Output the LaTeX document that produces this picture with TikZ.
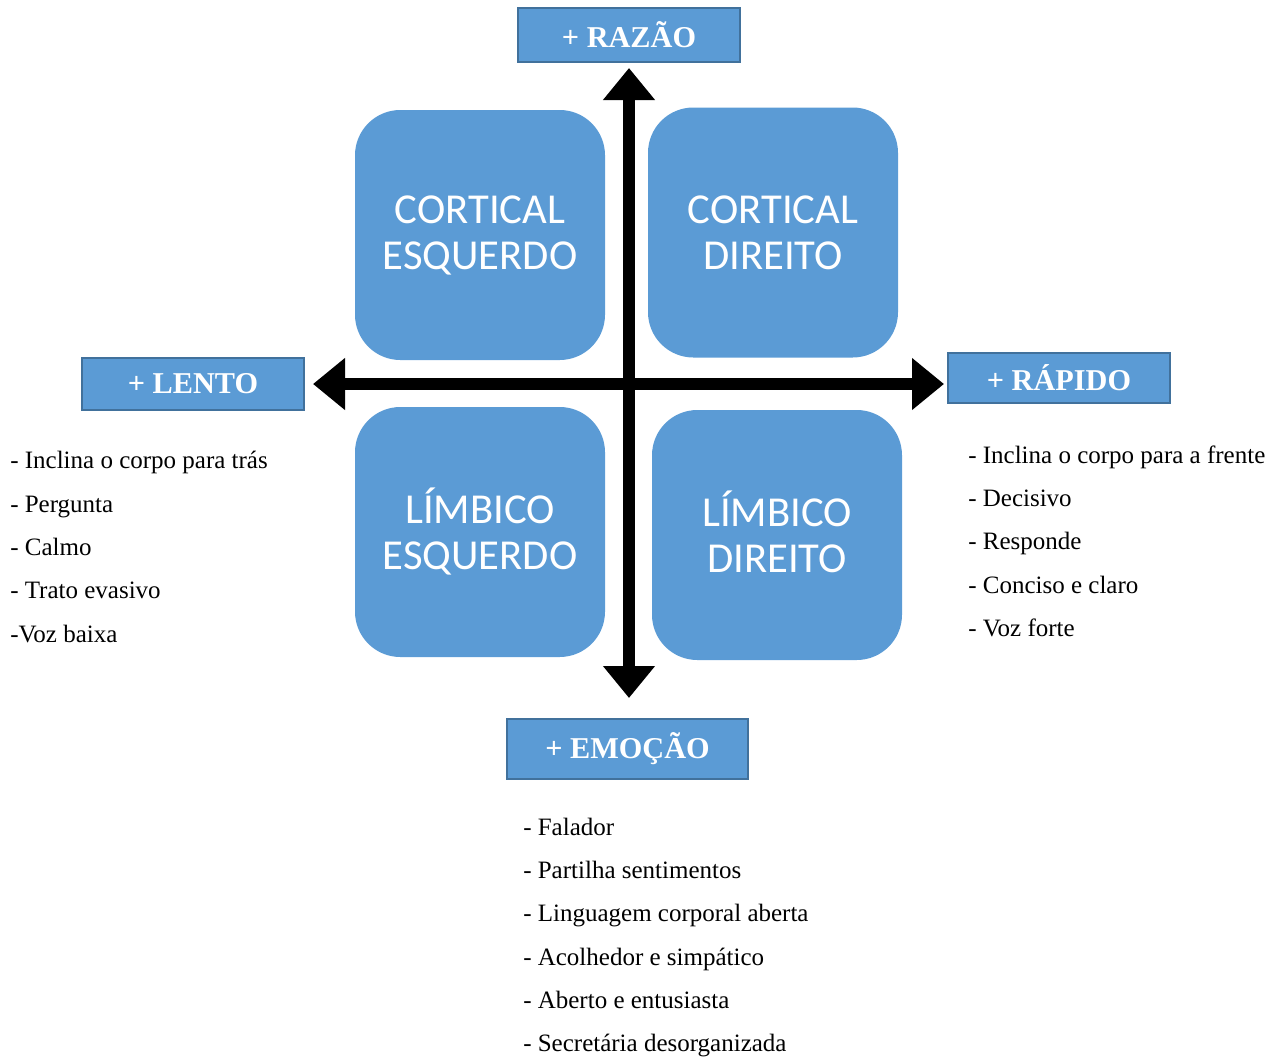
\documentclass[tikz,border=0pt]{standalone}
\usepackage{fontspec}
\setmainfont{Liberation Serif}
\newfontfamily\boxfont{Carlito}
\usetikzlibrary{arrows.meta}
\definecolor{qblue}{HTML}{5B9BD5}
\definecolor{qedge}{HTML}{41719C}
\begin{document}
\begin{tikzpicture}[x=0.75pt,y=-0.75pt,
  quad/.style={fill=qblue,draw=none,rounded corners=34pt,minimum width=187.5pt,minimum height=187.5pt,
    text=white,font=\boxfont\fontsize{32}{34.5}\selectfont,align=center,inner sep=0pt},
  axislabel/.style={fill=qblue,draw=qedge,line width=1.5pt,text=white,
    font=\fontsize{22.7}{26}\bfseries\selectfont,inner sep=0pt},
  item/.style={anchor=west,inner sep=0pt,font=\fontsize{18.75}{22}\selectfont,text height=0.7em,text depth=0.2em},
  axis/.style={line width=9pt,{Triangle[width=37.5pt,length=24pt]}-{Triangle[width=37.5pt,length=24pt]}}
]
\useasboundingbox (0,0) rectangle (1275,1057);
% quadrants
\node[quad] (ce) at (480,235) {CORTICAL\\ESQUERDO};
\node[quad] (cd) at (773,232.5) {CORTICAL\\DIREITO};
\node[quad] (le) at (480,532) {LÍMBICO\\ESQUERDO};
\node[quad] (ld) at (777,535) {\raisebox{5.5pt}{LÍMBICO}\\\raisebox{5.5pt}{DIREITO}};
% axis labels
\node[axislabel,minimum width=166.5pt,minimum height=40.5pt] (razao) at (629,35) {+ RAZÃO};
\node[axislabel,minimum width=166.5pt,minimum height=39pt] (lento) at (193,384) {+ LENTO};
\node[axislabel,minimum width=166.5pt,minimum height=37.5pt] (rapido) at (1059,378) {+ RÁPIDO};
\node[axislabel,minimum width=180.75pt,minimum height=45pt] (emocao) at (627.5,749) {+ EMOÇÃO};
% axes
\coordinate (top) at (629,68);
\coordinate (bot) at (629,698);
\coordinate (lft) at (313,384);
\coordinate (rgt) at (944,384);
\draw[axis] (lft) -- (rgt);
\draw[axis] (top) -- (bot);
% left list
\node[item] (l1) at (10,465) {- Inclina o corpo para trás};
\node[item] (l2) at (10,509) {- Pergunta};
\node[item] (l3) at (10,552) {- Calmo};
\node[item] (l4) at (10,595) {- Trato evasivo};
\node[item] (l5) at (10,639) {-Voz baixa};
% right list
\node[item] (r1) at (968,460) {- Inclina o corpo para a frente};
\node[item] (r2) at (968,503) {- Decisivo};
\node[item] (r3) at (968,546) {- Responde};
\node[item] (r4) at (968,590) {- Conciso e claro};
\node[item] (r5) at (968,633) {- Voz forte};
% bottom list
\node[item] (b1) at (523,832) {- Falador};
\node[item] (b2) at (523,875) {- Partilha sentimentos};
\node[item] (b3) at (523,918) {- Linguagem corporal aberta};
\node[item] (b4) at (523,962) {- Acolhedor e simpático};
\node[item] (b5) at (523,1005) {- Aberto e entusiasta};
\node[item] (b6) at (523,1048) {- Secretária desorganizada};
\end{tikzpicture}
\end{document}
